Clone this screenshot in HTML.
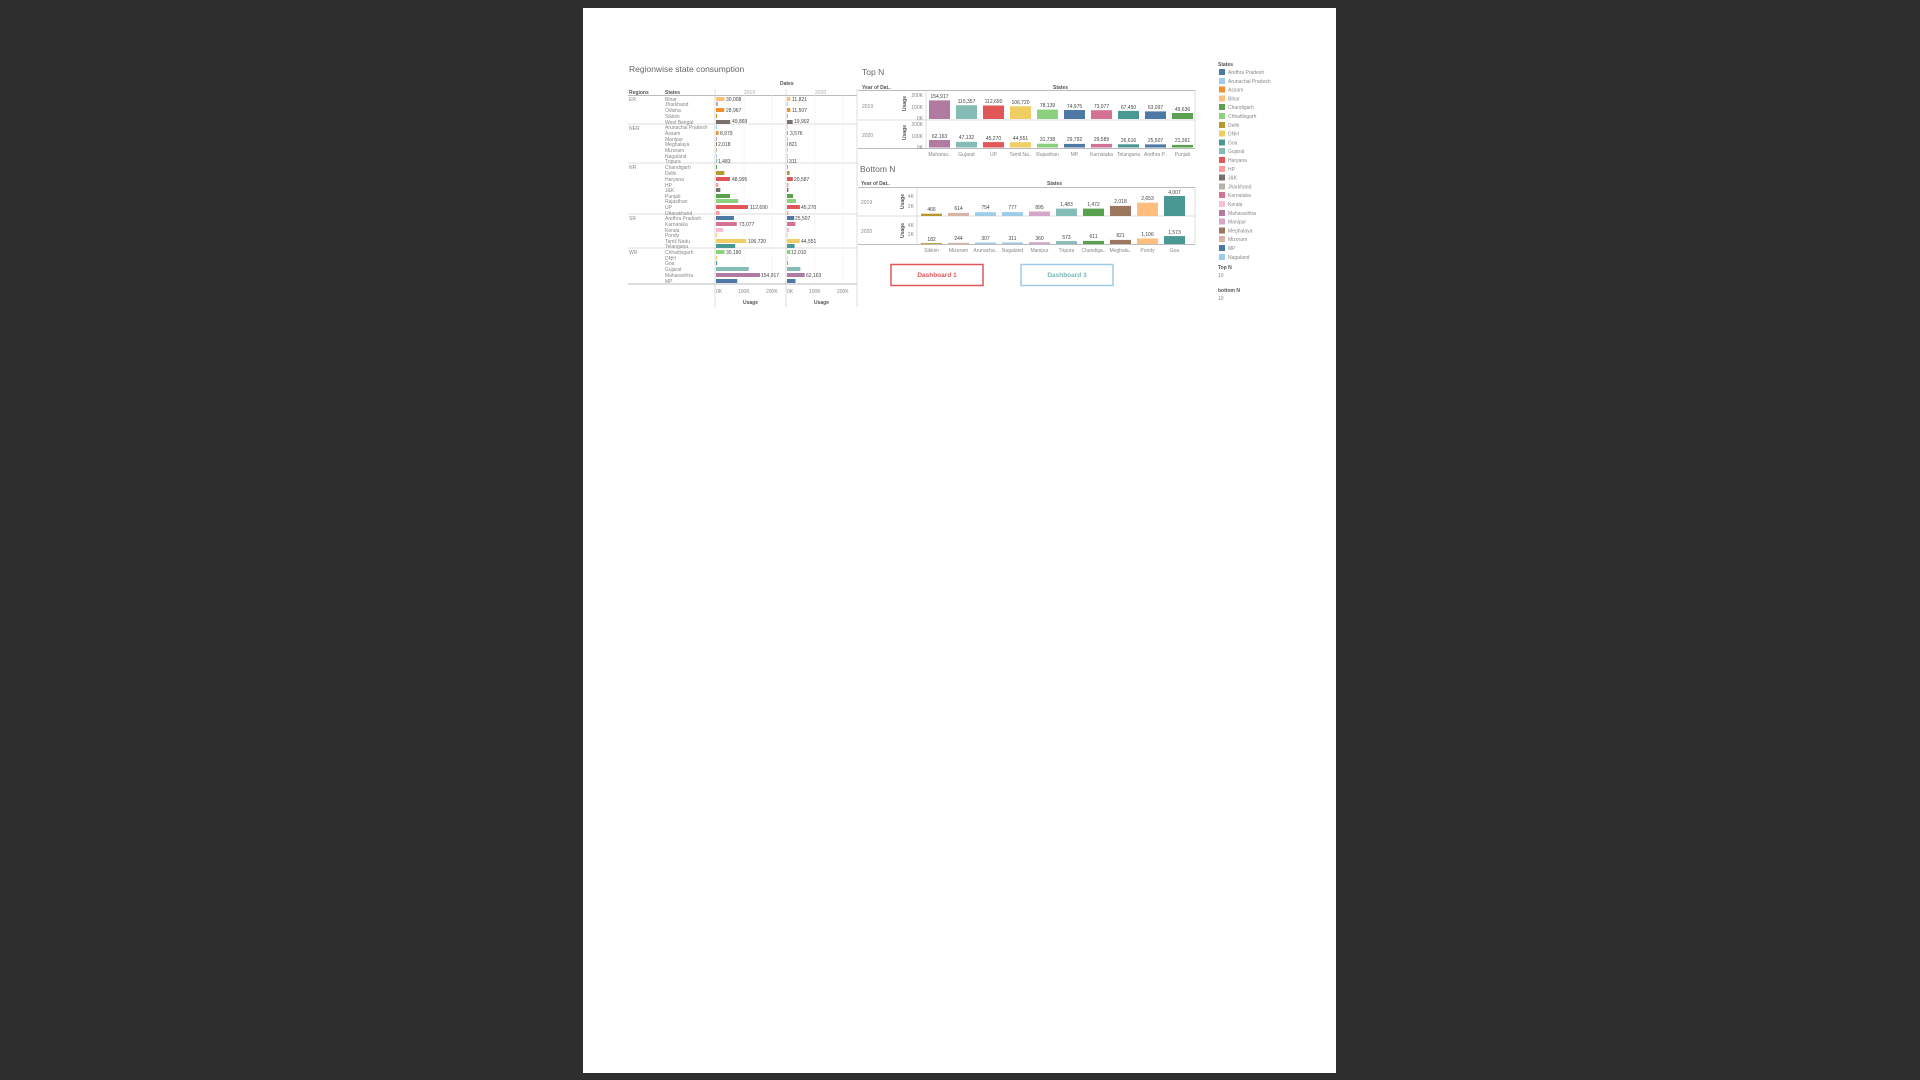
<!DOCTYPE html>
<html><head><meta charset="utf-8"><style>
html,body{margin:0;padding:0;background:#2e2e2e;}
svg{display:block}
text{font-family:"Liberation Sans",sans-serif;fill:#888;font-size:5px}
.h{fill:#555;font-weight:bold}
.v{fill:#444}
.ln{stroke:#d0d0d0;stroke-width:0.7}
.dk{stroke:#bbb;stroke-width:1}
</style></head><body>
<svg width="1920" height="1080" viewBox="0 0 1920 1080" xmlns="http://www.w3.org/2000/svg">
<rect x="0" y="0" width="1920" height="1080" fill="#2e2e2e"/>
<rect x="583" y="8" width="753" height="1065" fill="#fff"/>

<!-- ===== Regionwise ===== -->
<text x="629" y="72" style="font-size:8.5px;fill:#666">Regionwise state consumption</text>
<text x="780" y="85" class="h">Dates</text>
<text x="629" y="94" class="h">Regions</text>
<text x="665" y="94" class="h">States</text>
<text x="744" y="94" style="fill:#aaa">2019</text>
<text x="815" y="94" style="fill:#aaa">2020</text>
<line x1="628" y1="95.5" x2="857" y2="95.5" class="dk"/>
<line x1="628" y1="124" x2="857" y2="124" class="ln"/>
<line x1="628" y1="163" x2="857" y2="163" class="ln"/>
<line x1="628" y1="214" x2="857" y2="214" class="ln"/>
<line x1="628" y1="248" x2="857" y2="248" class="ln"/>
<line x1="628" y1="284" x2="857" y2="284" class="dk"/>
<line x1="715" y1="89" x2="715" y2="307" class="ln"/>
<line x1="786" y1="89" x2="786" y2="307" class="ln"/>
<line x1="857" y1="89" x2="857" y2="307" class="ln"/>
<line x1="744" y1="95" x2="744" y2="284" stroke="#eee" stroke-width="0.5"/>
<line x1="772" y1="95" x2="772" y2="284" stroke="#eee" stroke-width="0.5"/>
<line x1="815" y1="95" x2="815" y2="284" stroke="#eee" stroke-width="0.5"/>
<line x1="843" y1="95" x2="843" y2="284" stroke="#eee" stroke-width="0.5"/>
<text x="629" y="101">ER</text><text x="629" y="130">NER</text><text x="629" y="169">NR</text><text x="629" y="220">SR</text><text x="629" y="254">WR</text>
<g>
<text x="665" y="101">Bihar</text><text x="665" y="106">Jharkhand</text><text x="665" y="112">Odisha</text><text x="665" y="118">Sikkim</text><text x="665" y="124">West Bengal</text>
<text x="665" y="129">Arunachal Pradesh</text><text x="665" y="135">Assam</text><text x="665" y="141">Manipur</text><text x="665" y="146">Meghalaya</text><text x="665" y="152">Mizoram</text><text x="665" y="158">Nagaland</text><text x="665" y="163">Tripura</text>
<text x="665" y="169">Chandigarh</text><text x="665" y="175">Delhi</text><text x="665" y="181">Haryana</text><text x="665" y="187">HP</text><text x="665" y="192">J&amp;K</text><text x="665" y="198">Punjab</text><text x="665" y="203">Rajasthan</text><text x="665" y="209">UP</text><text x="665" y="215">Uttarakhand</text>
<text x="665" y="220">Andhra Pradesh</text><text x="665" y="226">Karnataka</text><text x="665" y="232">Kerala</text><text x="665" y="237">Pondy</text><text x="665" y="243">Tamil Nadu</text><text x="665" y="248">Telangana</text>
<text x="665" y="254">Chhattisgarh</text><text x="665" y="260">DNH</text><text x="665" y="265">Goa</text><text x="665" y="271">Gujarat</text><text x="665" y="277">Maharashtra</text><text x="665" y="283">MP</text>
</g>
<!-- 2019 bars -->
<g>
<rect x="716" y="97" width="8.5" height="4" fill="#ffbe7d"/>
<rect x="716" y="102" width="2" height="4" fill="#bab0ac"/>
<rect x="716" y="108" width="8.2" height="4" fill="#f28e2b"/>
<rect x="716" y="114" width="1" height="4" fill="#b6992d"/>
<rect x="716" y="120" width="14.2" height="4" fill="#79706e"/>
<rect x="716" y="125" width="1" height="4" fill="#a0cbe8"/>
<rect x="716" y="131" width="2.5" height="4" fill="#f28e2b"/>
<rect x="716" y="137" width="1" height="4" fill="#d4a6c8"/>
<rect x="716" y="142" width="1" height="4" fill="#9d7660"/>
<rect x="716" y="148" width="1" height="4" fill="#d7b5a6"/>
<rect x="716" y="154" width="1" height="4" fill="#a0cbe8"/>
<rect x="716" y="159" width="1" height="4" fill="#86bcb6"/>
<rect x="716" y="165" width="1" height="4" fill="#59a14f"/>
<rect x="716" y="171" width="8.3" height="4" fill="#b6992d"/>
<rect x="716" y="177" width="13.9" height="4" fill="#e15759"/>
<rect x="716" y="183" width="2.3" height="4" fill="#ff9d9a"/>
<rect x="716" y="188" width="4.3" height="4" fill="#79706e"/>
<rect x="716" y="194" width="14" height="4" fill="#59a14f"/>
<rect x="716" y="199" width="22.2" height="4" fill="#8cd17d"/>
<rect x="716" y="205" width="32" height="4" fill="#e15759"/>
<rect x="716" y="211" width="3.4" height="4" fill="#ff9d9a"/>
<rect x="716" y="216" width="17.9" height="4" fill="#4e79a7"/>
<rect x="716" y="222" width="20.8" height="4" fill="#d37295"/>
<rect x="716" y="228" width="7.1" height="4" fill="#fabfd2"/>
<rect x="716" y="233" width="1" height="4" fill="#ffbe7d"/>
<rect x="716" y="239" width="30.3" height="4" fill="#f1ce63"/>
<rect x="716" y="244" width="19.2" height="4" fill="#499894"/>
<rect x="716" y="250" width="8.6" height="4" fill="#8cd17d"/>
<rect x="716" y="256" width="1.1" height="4" fill="#f1ce63"/>
<rect x="716" y="261" width="1.1" height="4" fill="#499894"/>
<rect x="716" y="267" width="32.8" height="4" fill="#86bcb6"/>
<rect x="716" y="273" width="44" height="4" fill="#b07aa1"/>
<rect x="716" y="279" width="21.3" height="4" fill="#4e79a7"/>
</g>
<g class="v">
<text x="726" y="101" class="v">30,008</text><text x="726" y="112" class="v">28,967</text><text x="732" y="123" class="v">49,869</text>
<text x="720" y="135" class="v">8,979</text><text x="718" y="146" class="v">2,018</text><text x="718" y="163" class="v">1,483</text>
<text x="732" y="181" class="v">48,995</text><text x="750" y="209" class="v">112,690</text>
<text x="739" y="226" class="v">73,077</text><text x="748" y="243" class="v">106,720</text>
<text x="726" y="254" class="v">30,180</text><text x="761" y="277" class="v">154,917</text>
</g>
<!-- 2020 bars -->
<g>
<rect x="787" y="97" width="3.4" height="4" fill="#ffbe7d"/>
<rect x="787" y="102" width="0.7" height="4" fill="#bab0ac"/>
<rect x="787" y="108" width="3.3" height="4" fill="#f28e2b"/>
<rect x="787" y="114" width="0.7" height="4" fill="#b6992d"/>
<rect x="787" y="120" width="5.7" height="4" fill="#79706e"/>
<rect x="787" y="125" width="0.7" height="4" fill="#a0cbe8"/>
<rect x="787" y="131" width="1" height="4" fill="#f28e2b"/>
<rect x="787" y="137" width="0.7" height="4" fill="#d4a6c8"/>
<rect x="787" y="142" width="0.7" height="4" fill="#9d7660"/>
<rect x="787" y="148" width="0.7" height="4" fill="#d7b5a6"/>
<rect x="787" y="154" width="0.7" height="4" fill="#a0cbe8"/>
<rect x="787" y="159" width="0.7" height="4" fill="#86bcb6"/>
<rect x="787" y="165" width="0.7" height="4" fill="#59a14f"/>
<rect x="787" y="171" width="2.6" height="4" fill="#b6992d"/>
<rect x="787" y="177" width="5.8" height="4" fill="#e15759"/>
<rect x="787" y="183" width="1.4" height="4" fill="#ff9d9a"/>
<rect x="787" y="188" width="1.4" height="4" fill="#79706e"/>
<rect x="787" y="194" width="6.1" height="4" fill="#59a14f"/>
<rect x="787" y="199" width="9" height="4" fill="#8cd17d"/>
<rect x="787" y="205" width="12.9" height="4" fill="#e15759"/>
<rect x="787" y="211" width="1.4" height="4" fill="#ff9d9a"/>
<rect x="787" y="216" width="7.2" height="4" fill="#4e79a7"/>
<rect x="787" y="222" width="8.4" height="4" fill="#d37295"/>
<rect x="787" y="228" width="2.3" height="4" fill="#fabfd2"/>
<rect x="787" y="233" width="0.7" height="4" fill="#ffbe7d"/>
<rect x="787" y="239" width="12.7" height="4" fill="#f1ce63"/>
<rect x="787" y="244" width="7.6" height="4" fill="#499894"/>
<rect x="787" y="250" width="3.4" height="4" fill="#8cd17d"/>
<rect x="787" y="256" width="0.7" height="4" fill="#f1ce63"/>
<rect x="787" y="261" width="0.7" height="4" fill="#499894"/>
<rect x="787" y="267" width="13.4" height="4" fill="#86bcb6"/>
<rect x="787" y="273" width="17.7" height="4" fill="#b07aa1"/>
<rect x="787" y="279" width="8.5" height="4" fill="#4e79a7"/>
</g>
<g>
<text x="792" y="101" class="v">11,821</text><text x="792" y="112" class="v">11,507</text><text x="794" y="123" class="v">19,902</text>
<text x="790" y="135" class="v">3,576</text><text x="789" y="146" class="v">821</text><text x="789" y="163" class="v">311</text>
<text x="794" y="181" class="v">20,587</text><text x="801" y="209" class="v">45,270</text>
<text x="795" y="220" class="v">25,507</text><text x="801" y="243" class="v">44,551</text>
<text x="791" y="254" class="v">12,010</text><text x="806" y="277" class="v">62,163</text>
</g>
<text x="716" y="293">0K</text><text x="738" y="293">100K</text><text x="766" y="293">200K</text>
<text x="787" y="293">0K</text><text x="809" y="293">100K</text><text x="837" y="293">200K</text>
<text x="743" y="304" class="h">Usage</text><text x="814" y="304" class="h">Usage</text>

<!-- ===== Top N ===== -->
<text x="862" y="75" style="font-size:8.5px;fill:#666">Top N</text>
<text x="862" y="89" class="h">Year of Dat..</text>
<text x="1053" y="89" class="h">States</text>
<line x1="858" y1="90.5" x2="1195" y2="90.5" class="dk"/>
<line x1="858" y1="120" x2="1195" y2="120" class="ln"/>
<line x1="858" y1="148.5" x2="1195" y2="148.5" class="dk"/>
<line x1="926" y1="90" x2="926" y2="148" class="ln"/>
<line x1="1195" y1="90" x2="1195" y2="148" class="ln"/>
<text x="862" y="108">2019</text><text x="862" y="137">2020</text>
<text transform="translate(906,111) rotate(-90)" class="h">Usage</text>
<text transform="translate(906,140) rotate(-90)" class="h">Usage</text>
<g text-anchor="end">
<text x="923" y="97">200K</text><text x="923" y="109">100K</text><text x="923" y="120">0K</text>
<text x="923" y="126">200K</text><text x="923" y="138">100K</text><text x="923" y="149">0K</text>
</g>
<g>
<rect x="929" y="100.4" width="21" height="18.6" fill="#b07aa1"/>
<rect x="956" y="105.2" width="21" height="13.8" fill="#86bcb6"/>
<rect x="983" y="105.5" width="21" height="13.5" fill="#e15759"/>
<rect x="1010" y="106.2" width="21" height="12.8" fill="#f1ce63"/>
<rect x="1037" y="109.6" width="21" height="9.4" fill="#8cd17d"/>
<rect x="1064" y="110" width="21" height="9" fill="#4e79a7"/>
<rect x="1091" y="110.2" width="21" height="8.8" fill="#d37295"/>
<rect x="1118" y="110.9" width="21" height="8.1" fill="#499894"/>
<rect x="1145" y="111.4" width="21" height="7.6" fill="#4e79a7"/>
<rect x="1172" y="113" width="21" height="6" fill="#59a14f"/>
<rect x="929" y="140" width="21" height="7.5" fill="#b07aa1"/>
<rect x="956" y="141.8" width="21" height="5.7" fill="#86bcb6"/>
<rect x="983" y="142.1" width="21" height="5.4" fill="#e15759"/>
<rect x="1010" y="142.2" width="21" height="5.3" fill="#f1ce63"/>
<rect x="1037" y="143.7" width="21" height="3.8" fill="#8cd17d"/>
<rect x="1064" y="143.9" width="21" height="3.6" fill="#4e79a7"/>
<rect x="1091" y="143.9" width="21" height="3.6" fill="#d37295"/>
<rect x="1118" y="144.3" width="21" height="3.2" fill="#499894"/>
<rect x="1145" y="144.4" width="21" height="3.1" fill="#4e79a7"/>
<rect x="1172" y="144.9" width="21" height="2.6" fill="#59a14f"/>
</g>
<g text-anchor="middle">
<text x="939.5" y="98" class="v">154,917</text><text x="966.5" y="103" class="v">115,357</text><text x="993.5" y="103" class="v">112,690</text><text x="1020.5" y="104" class="v">106,720</text><text x="1047.5" y="107" class="v">78,139</text><text x="1074.5" y="108" class="v">74,975</text><text x="1101.5" y="108" class="v">73,077</text><text x="1128.5" y="109" class="v">67,450</text><text x="1155.5" y="109" class="v">63,097</text><text x="1182.5" y="111" class="v">49,636</text>
<text x="939.5" y="138" class="v">62,163</text><text x="966.5" y="139" class="v">47,132</text><text x="993.5" y="140" class="v">45,270</text><text x="1020.5" y="140" class="v">44,551</text><text x="1047.5" y="141" class="v">31,738</text><text x="1074.5" y="141" class="v">29,792</text><text x="1101.5" y="141" class="v">29,589</text><text x="1128.5" y="142" class="v">26,616</text><text x="1155.5" y="142" class="v">25,507</text><text x="1182.5" y="142" class="v">21,361</text>
<text x="939.5" y="156">Maharas..</text><text x="966.5" y="156">Gujarat</text><text x="993.5" y="156">UP</text><text x="1020.5" y="156">Tamil Na..</text><text x="1047.5" y="156">Rajasthan</text><text x="1074.5" y="156">MP</text><text x="1101.5" y="156">Karnataka</text><text x="1128.5" y="156">Telangana</text><text x="1155.5" y="156">Andhra P..</text><text x="1182.5" y="156">Punjab</text>
</g>

<!-- ===== Bottom N ===== -->
<text x="860" y="172" style="font-size:8.5px;fill:#666">Bottom N</text>
<text x="861" y="185" class="h">Year of Dat..</text>
<text x="1047" y="185" class="h">States</text>
<line x1="858" y1="187.5" x2="1195" y2="187.5" class="dk"/>
<line x1="858" y1="216" x2="1195" y2="216" class="ln"/>
<line x1="858" y1="244.5" x2="1195" y2="244.5" class="dk"/>
<line x1="917" y1="187" x2="917" y2="244" class="ln"/>
<line x1="1195" y1="187" x2="1195" y2="244" class="ln"/>
<text x="861" y="204">2019</text><text x="861" y="233">2020</text>
<text transform="translate(904,209) rotate(-90)" class="h">Usage</text>
<text transform="translate(904,238) rotate(-90)" class="h">Usage</text>
<g text-anchor="end">
<text x="914" y="198">4K</text><text x="914" y="208">2K</text>
<text x="914" y="227">4K</text><text x="914" y="236">2K</text>
</g>
<g>
<rect x="921" y="213.7" width="21" height="2.3" fill="#b6992d"/>
<rect x="948" y="212.9" width="21" height="3.1" fill="#d7b5a6"/>
<rect x="975" y="212.2" width="21" height="3.8" fill="#a0cbe8"/>
<rect x="1002" y="212.1" width="21" height="3.9" fill="#a0cbe8"/>
<rect x="1029" y="211.5" width="21" height="4.5" fill="#d4a6c8"/>
<rect x="1056" y="208.6" width="21" height="7.4" fill="#86bcb6"/>
<rect x="1083" y="208.6" width="21" height="7.4" fill="#59a14f"/>
<rect x="1110" y="205.9" width="21" height="10.1" fill="#9d7660"/>
<rect x="1137" y="202.7" width="21" height="13.3" fill="#ffbe7d"/>
<rect x="1164" y="196" width="21" height="20" fill="#499894"/>
<rect x="921" y="243.1" width="21" height="0.9" fill="#b6992d"/>
<rect x="948" y="242.8" width="21" height="1.2" fill="#d7b5a6"/>
<rect x="975" y="242.5" width="21" height="1.5" fill="#a0cbe8"/>
<rect x="1002" y="242.4" width="21" height="1.6" fill="#a0cbe8"/>
<rect x="1029" y="242.2" width="21" height="1.8" fill="#d4a6c8"/>
<rect x="1056" y="241.1" width="21" height="2.9" fill="#86bcb6"/>
<rect x="1083" y="240.9" width="21" height="3.1" fill="#59a14f"/>
<rect x="1110" y="239.9" width="21" height="4.1" fill="#9d7660"/>
<rect x="1137" y="238.5" width="21" height="5.5" fill="#ffbe7d"/>
<rect x="1164" y="236.1" width="21" height="7.9" fill="#499894"/>
</g>
<g text-anchor="middle">
<text x="931.5" y="211" class="v">466</text><text x="958.5" y="210" class="v">614</text><text x="985.5" y="209" class="v">754</text><text x="1012.5" y="209" class="v">777</text><text x="1039.5" y="209" class="v">895</text><text x="1066.5" y="206" class="v">1,483</text><text x="1093.5" y="206" class="v">1,472</text><text x="1120.5" y="203" class="v">2,018</text><text x="1147.5" y="200" class="v">2,653</text><text x="1174.5" y="194" class="v">4,007</text>
<text x="931.5" y="241" class="v">182</text><text x="958.5" y="240" class="v">244</text><text x="985.5" y="240" class="v">307</text><text x="1012.5" y="240" class="v">311</text><text x="1039.5" y="240" class="v">360</text><text x="1066.5" y="239" class="v">573</text><text x="1093.5" y="238" class="v">611</text><text x="1120.5" y="237" class="v">821</text><text x="1147.5" y="236" class="v">1,106</text><text x="1174.5" y="234" class="v">1,573</text>
<text x="931.5" y="252">Sikkim</text><text x="958.5" y="252">Mizoram</text><text x="985.5" y="252">Arunacha..</text><text x="1012.5" y="252">Nagaland</text><text x="1039.5" y="252">Manipur</text><text x="1066.5" y="252">Tripura</text><text x="1093.5" y="252">Chandiga..</text><text x="1120.5" y="252">Meghala..</text><text x="1147.5" y="252">Pondy</text><text x="1174.5" y="252">Goa</text>
</g>

<!-- Buttons -->
<rect x="891" y="264.5" width="92" height="21" fill="#fff" stroke="#e15759" stroke-width="1.5"/>
<text x="937" y="277" text-anchor="middle" style="font-size:6.5px;fill:#e15759;font-weight:bold">Dashboard 1</text>
<rect x="1021" y="264.5" width="92" height="21" fill="#fff" stroke="#a0cbe8" stroke-width="1.5"/>
<text x="1067" y="277" text-anchor="middle" style="font-size:6.5px;fill:#76b7b2;font-weight:bold">Dashboard 3</text>

<!-- Legend -->
<text x="1218" y="66" class="h">States</text>
<g>
<rect x="1219" y="69" width="6" height="6" fill="#4e79a7"/><text x="1228" y="74">Andhra Pradesh</text>
<rect x="1219" y="78" width="6" height="6" fill="#a0cbe8"/><text x="1228" y="83">Arunachal Pradesh</text>
<rect x="1219" y="86.5" width="6" height="6" fill="#f28e2b"/><text x="1228" y="91.5">Assam</text>
<rect x="1219" y="95.5" width="6" height="6" fill="#ffbe7d"/><text x="1228" y="100.5">Bihar</text>
<rect x="1219" y="104" width="6" height="6" fill="#59a14f"/><text x="1228" y="109">Chandigarh</text>
<rect x="1219" y="113" width="6" height="6" fill="#8cd17d"/><text x="1228" y="118">Chhattisgarh</text>
<rect x="1219" y="122" width="6" height="6" fill="#b6992d"/><text x="1228" y="127">Delhi</text>
<rect x="1219" y="130.5" width="6" height="6" fill="#f1ce63"/><text x="1228" y="135.5">DNH</text>
<rect x="1219" y="139.5" width="6" height="6" fill="#499894"/><text x="1228" y="144.5">Goa</text>
<rect x="1219" y="148" width="6" height="6" fill="#86bcb6"/><text x="1228" y="153">Gujarat</text>
<rect x="1219" y="157" width="6" height="6" fill="#e15759"/><text x="1228" y="162">Haryana</text>
<rect x="1219" y="166" width="6" height="6" fill="#ff9d9a"/><text x="1228" y="171">HP</text>
<rect x="1219" y="174.5" width="6" height="6" fill="#79706e"/><text x="1228" y="179.5">J&amp;K</text>
<rect x="1219" y="183.5" width="6" height="6" fill="#bab0ac"/><text x="1228" y="188.5">Jharkhand</text>
<rect x="1219" y="192" width="6" height="6" fill="#d37295"/><text x="1228" y="197">Karnataka</text>
<rect x="1219" y="201" width="6" height="6" fill="#fabfd2"/><text x="1228" y="206">Kerala</text>
<rect x="1219" y="210" width="6" height="6" fill="#b07aa1"/><text x="1228" y="215">Maharashtra</text>
<rect x="1219" y="218.5" width="6" height="6" fill="#d4a6c8"/><text x="1228" y="223.5">Manipur</text>
<rect x="1219" y="227.5" width="6" height="6" fill="#9d7660"/><text x="1228" y="232.5">Meghalaya</text>
<rect x="1219" y="236" width="6" height="6" fill="#d7b5a6"/><text x="1228" y="241">Mizoram</text>
<rect x="1219" y="245" width="6" height="6" fill="#4e79a7"/><text x="1228" y="250">MP</text>
<rect x="1219" y="254" width="6" height="6" fill="#a0cbe8"/><text x="1228" y="259">Nagaland</text>
</g>
<text x="1218" y="269" class="h">Top N</text>
<text x="1218" y="277">10</text>
<text x="1218" y="292" class="h">bottom N</text>
<text x="1218" y="300">10</text>
</svg>
</body></html>
